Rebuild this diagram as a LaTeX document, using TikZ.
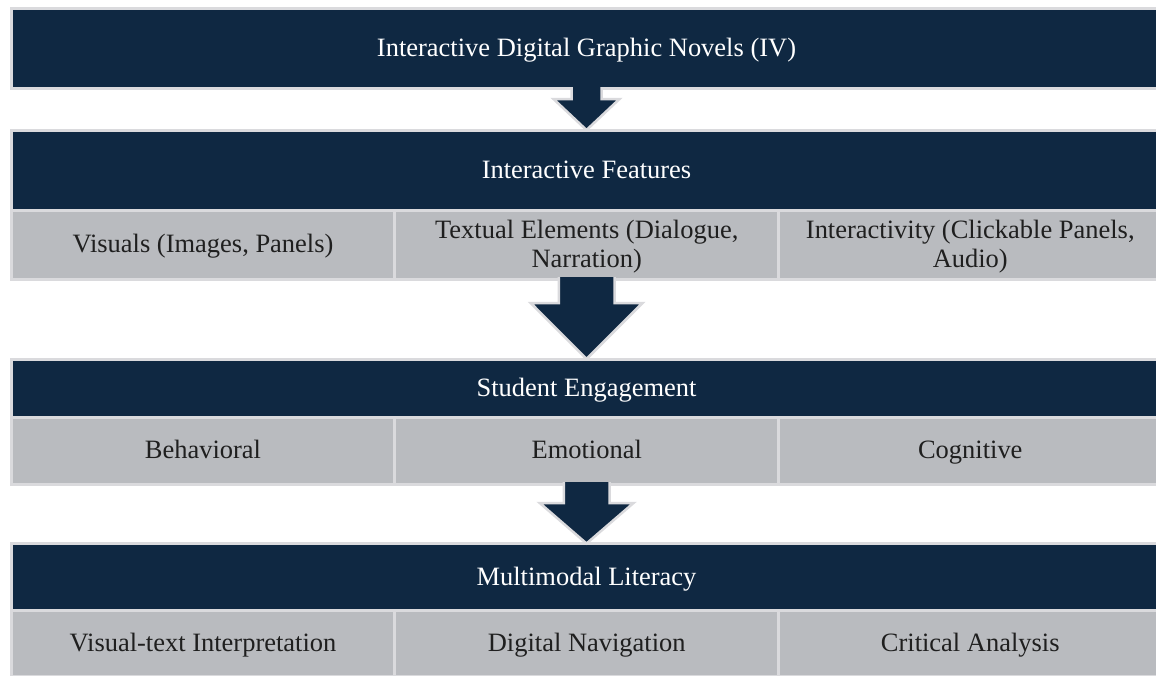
\documentclass[tikz,border=0pt]{standalone}
\usepackage{fontspec}
\setmainfont{Liberation Serif}
\definecolor{navy}{RGB}{15,40,66}
\definecolor{cellgray}{RGB}{185,187,191}
\definecolor{rim}{RGB}{218,218,221}
\newcommand{\px}{0.03cm}
\newcommand{\cellstrut}{\rule[-0.2em]{0pt}{1.04em}}
\begin{document}
\begin{tikzpicture}[x=0.03cm,y=-0.03cm,
  every node/.style={inner sep=0pt,outer sep=0pt,align=flush center,font=\fontsize{22.6}{23.8}\selectfont,
    execute at begin node=\cellstrut,execute at end node=\cellstrut},
  head/.style={draw=rim,line width=3*\px,fill=navy,text=white,minimum width=1151*\px},
  cell/.style={draw=rim,line width=3*\px,fill=cellgray,text=black!88,text width=360*\px,minimum width=384*\px},
  flow/.style={draw=rim,line width=2.5*\px,fill=navy}]
\useasboundingbox (0,0) rectangle (1156,675);
% top level
\node[head,minimum height=79*\px] (novels) at (586.5,48.5) {Interactive Digital Graphic Novels (IV)};
% features
\node[head,minimum height=80*\px] (feat) at (586.5,170) {Interactive Features};
\node[cell,minimum height=69*\px] (visuals) at (203,244.5) {Visuals (Images, Panels)};
\node[cell,minimum height=69*\px] (textual) at (586.75,244.5) {Textual Elements (Dialogue, Narration)};
\node[cell,minimum height=69*\px] (clicks) at (970.25,244.5) {Interactivity (Clickable Panels, Audio)};
% engagement
\node[head,minimum height=58*\px] (engage) at (586.5,388) {Student Engagement};
\node[cell,minimum height=67*\px] (behav) at (203,450.5) {Behavioral};
\node[cell,minimum height=67*\px] (emot) at (586.75,450.5) {Emotional};
\node[cell,minimum height=67*\px] (cogn) at (970.25,450.5) {Cognitive};
% literacy
\node[head,minimum height=67*\px] (literacy) at (586.5,577) {Multimodal Literacy};
\node[cell,minimum height=65.5*\px] (vistext) at (203,643.25) {Visual-text Interpretation};
\node[cell,minimum height=65.5*\px] (navig) at (586.75,643.25) {Digital Navigation};
\node[cell,minimum height=65.5*\px] (critic) at (970.25,643.25) {Critical Analysis};
% block arrows
\path[flow] (novels.south) ++(-15,-1) -- ++(0,12) -- ++(-18,0) -- (feat.north) -- ++(33,-31) -- ++(-18,0) -- ++(0,-12);
\path[flow] (textual.south) ++(-28,-2) -- ++(0,26) -- ++(-28,0) -- (engage.north) -- ++(56,-56) -- ++(-28,0) -- ++(0,-26);
\path[flow] (emot.south) ++(-23,-2) -- ++(0,21) -- ++(-24,0) -- (literacy.north) -- ++(47,-40.5) -- ++(-24,0) -- ++(0,-21);
\end{tikzpicture}
\end{document}
